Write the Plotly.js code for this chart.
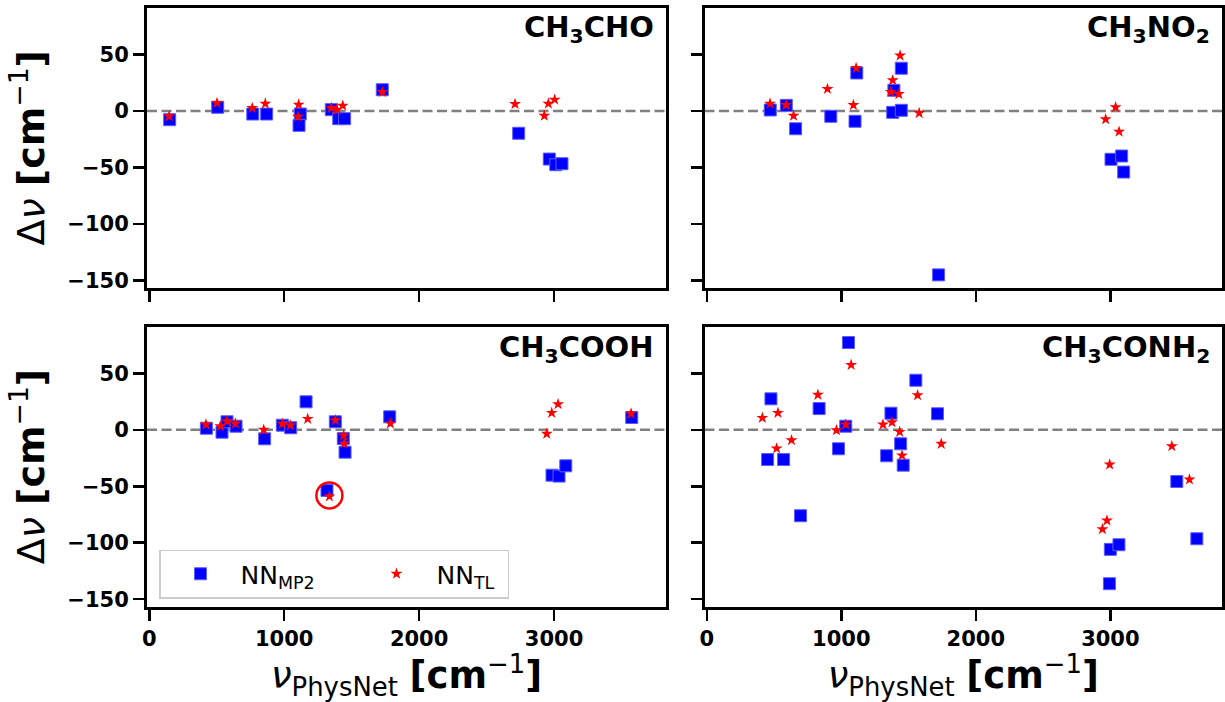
<!DOCTYPE html>
<html><head><meta charset="utf-8">
<script src="https://cdn.plot.ly/plotly-3.0.1.min.js"></script>
<style>html,body{margin:0;padding:0;background:#fff}</style>
</head><body><div id="chart" style="width:1225px;height:702px"></div>
<script>
// Molecule labels
const molecules = ['CH<sub>3</sub>CHO', 'CH<sub>3</sub>NO<sub>2</sub>', 'CH<sub>3</sub>COOH', 'CH<sub>3</sub>CONH<sub>2</sub>'];
const seriesNames = ['NN<sub>MP2</sub>', 'NN<sub>TL</sub>'];
const xTicks = [0, 1000, 2000, 3000];
const yTicks = [-150, -100, -50, 0, 50];

// CH3CHO
const cho_mp2_x = [151, 507, 767, 870, 1119, 1110, 1349, 1404, 1448, 1727, 2738, 2965, 3013, 3059];
const cho_mp2_y = [-7.7, 3.3, -2.7, -2.7, -2.7, -12.7, 1.2, -6.8, -6.8, 18.8, -19.7, -42.5, -47.5, -46.6];
const cho_tl_x = [147, 502, 763, 860, 1107, 1102, 1349, 1391, 1434, 1727, 2711, 2928, 2958, 3005];
const cho_tl_y = [-4.7, 7.1, 2.7, 6.5, 5.6, -5, 2.7, 1.2, 4.7, 16.8, 6.2, -4.2, 6.5, 10];

// CH3NO2
const no2_mp2_x = [472, 591, 660, 922, 1102, 1115, 1391, 1382, 1446, 1446, 1723, 3005, 3084, 3099];
const no2_mp2_y = [0.9, 5, -15.7, -4.7, -9.1, 33.6, 18.3, -1.2, 0.6, 37.8, -144.9, -42.7, -39.8, -54];
const no2_tl_x = [470, 589, 645, 897, 1090, 1110, 1437, 1382, 1368, 1428, 1579, 3039, 2965, 3065];
const no2_tl_y = [6.5, 5.3, -4.2, 19.5, 5.3, 38, 49, 27.2, 16.8, 15, -1.8, 3.3, -7.3, -18.3];

// CH3COOH
const cooh_mp2_x = [423, 539, 576, 643, 855, 986, 1048, 1162, 1317, 1379, 1438, 1451, 1782, 2985, 3037, 3087, 3576];
const cooh_mp2_y = [1.4, -2.1, 7.1, 3.2, -8, 4.1, 1.8, 24.8, -53.7, 7.1, -7.7, -19.8, 11.5, -40.2, -41, -31.9, 10.9];
const cooh_tl_x = [420, 526, 576, 638, 848, 986, 1045, 1174, 1335, 1379, 1441, 1445, 1787, 2946, 2983, 3030, 3571];
const cooh_tl_y = [4.7, 3.2, 7.6, 5.6, 0, 5.3, 4.1, 9.7, -59, 8.5, -5, -12.1, 5.6, -3.5, 15, 22.7, 14.4];
const highlightIndex = 8; // circled mode in CH3COOH

// CH3CONH2
const conh2_mp2_x = [477, 452, 571, 697, 835, 979, 1033, 1053, 1369, 1337, 1441, 1460, 1554, 1715, 3000, 3064, 2993, 3494, 3643];
const conh2_mp2_y = [27.4, -26.3, -26.3, -76.1, 18.8, -16.8, 3.2, 77.3, 14.7, -23, -12.4, -31.3, 43.9, 14.2, -105.9, -101.8, -136.3, -45.8, -96.5];
const conh2_tl_x = [413, 529, 519, 630, 826, 964, 1033, 1073, 1310, 1377, 1434, 1451, 1567, 1743, 2995, 2975, 2941, 3457, 3588];
const conh2_tl_y = [10.6, 15, -16.5, -9.2, 31, -0.4, 4.7, 57.5, 4.7, 6.7, -1.8, -22.7, 30.6, -12.4, -30.7, -80.3, -88, -14.5, -44];

const panels = [
  {mp2x: cho_mp2_x, mp2y: cho_mp2_y, tlx: cho_tl_x, tly: cho_tl_y},
  {mp2x: no2_mp2_x, mp2y: no2_mp2_y, tlx: no2_tl_x, tly: no2_tl_y},
  {mp2x: cooh_mp2_x, mp2y: cooh_mp2_y, tlx: cooh_tl_x, tly: cooh_tl_y},
  {mp2x: conh2_mp2_x, mp2y: conh2_mp2_y, tlx: conh2_tl_x, tly: conh2_tl_y}
];

const FONT = 'DejaVu Sans';
const W = 1225, H = 702;
const colDomains = [[147 / W, 666 / W], [704.5 / W, 1222 / W]];
const rowDomains = [[1 - 288 / H, 1 - 7.5 / H], [1 - 606.5 / H, 1 - 326.5 / H]];
const xRange = [-17, 3830];
const yRange = [-156.5, 91.5];

const traces = [];
const layout = {
  width: W, height: H,
  margin: {l: 0, r: 0, t: 0, b: 0},
  paper_bgcolor: 'white', plot_bgcolor: 'white',
  font: {family: FONT, color: 'black'},
  showlegend: true,
  legend: {
    x: 159 / W, y: 1 - 549.5 / H, xanchor: 'left', yanchor: 'top',
    orientation: 'h', bgcolor: 'white', bordercolor: '#cccccc', borderwidth: 1.5,
    font: {family: FONT, size: 25, color: 'black'}, itemwidth: 70
  },
  shapes: [], annotations: []
};

const titleText = '<b>[cm</b><sup>−1</sup><b>]</b>';

panels.forEach((p, i) => {
  const row = Math.floor(i / 2), col = i % 2;
  const s = i === 0 ? '' : String(i + 1);
  const xa = 'x' + s, ya = 'y' + s;
  const showLeg = i === 2;
  traces.push({
    type: 'scatter', mode: 'markers', x: p.mp2x, y: p.mp2y, xaxis: xa, yaxis: ya,
    name: seriesNames[0], showlegend: showLeg, legendwidth: 111,
    marker: {symbol: 'square', size: 12, color: '#0000ff', line: {width: 1, color: '#5c5cff'}}
  });
  traces.push({
    type: 'scatter', mode: 'markers', x: p.tlx, y: p.tly, xaxis: xa, yaxis: ya,
    name: seriesNames[1], showlegend: showLeg, legendwidth: 66,
    marker: {symbol: 'star', size: 9, color: '#ff0000', line: {width: 0}}
  });
  const axCommon = {
    showline: true, linewidth: 3, linecolor: 'black', mirror: true,
    ticks: 'outside', ticklen: 11, tickwidth: 2.5, tickcolor: 'black',
    showgrid: false, zeroline: false,
    tickfont: {family: FONT, size: 21, weight: 'bold', color: 'black'}
  };
  layout['xaxis' + s] = Object.assign({}, axCommon, {
    domain: colDomains[col], range: xRange, anchor: ya,
    tickvals: xTicks, ticktext: xTicks.map(String), showticklabels: row === 1,
    title: row === 1 ? {text: '<i>ν</i><sub>PhysNet</sub> ' + titleText, font: {family: FONT, size: 37, color: 'black'}, standoff: 6} : undefined
  });
  layout['yaxis' + s] = Object.assign({}, axCommon, {
    domain: rowDomains[row], range: yRange, anchor: xa,
    tickvals: yTicks, ticktext: yTicks.map(v => v < 0 ? '−' + Math.abs(v) : String(v)), showticklabels: col === 0,
    title: col === 0 ? {text: 'Δ<i>ν</i> ' + titleText, font: {family: FONT, size: 38, color: 'black'}, standoff: 12} : undefined
  });
  layout.shapes.push({
    type: 'line', xref: xa + ' domain', yref: ya, x0: 0, x1: 1, y0: 0, y1: 0,
    line: {color: '#808080', width: 2.5, dash: '10px,4.5px'}, layer: 'below'
  });
  layout.annotations.push({
    xref: xa + ' domain', yref: ya + ' domain', x: 1, y: 1, xanchor: 'right', yanchor: 'top',
    xshift: -10, yshift: -1, showarrow: false, text: '<b>' + molecules[i] + '</b>',
    font: {family: FONT, size: 29, color: 'black'}
  });
});

// highlight circle around the circled CH3COOH mode
layout.shapes.push({
  type: 'circle', xref: 'x3', yref: 'y3', xsizemode: 'pixel', ysizemode: 'pixel',
  xanchor: cooh_tl_x[highlightIndex], yanchor: cooh_tl_y[highlightIndex],
  x0: -13, x1: 13, y0: -12, y1: 14, line: {color: '#ff0000', width: 2.5}
});

Plotly.newPlot('chart', traces, layout, {staticPlot: true});
</script></body></html>
